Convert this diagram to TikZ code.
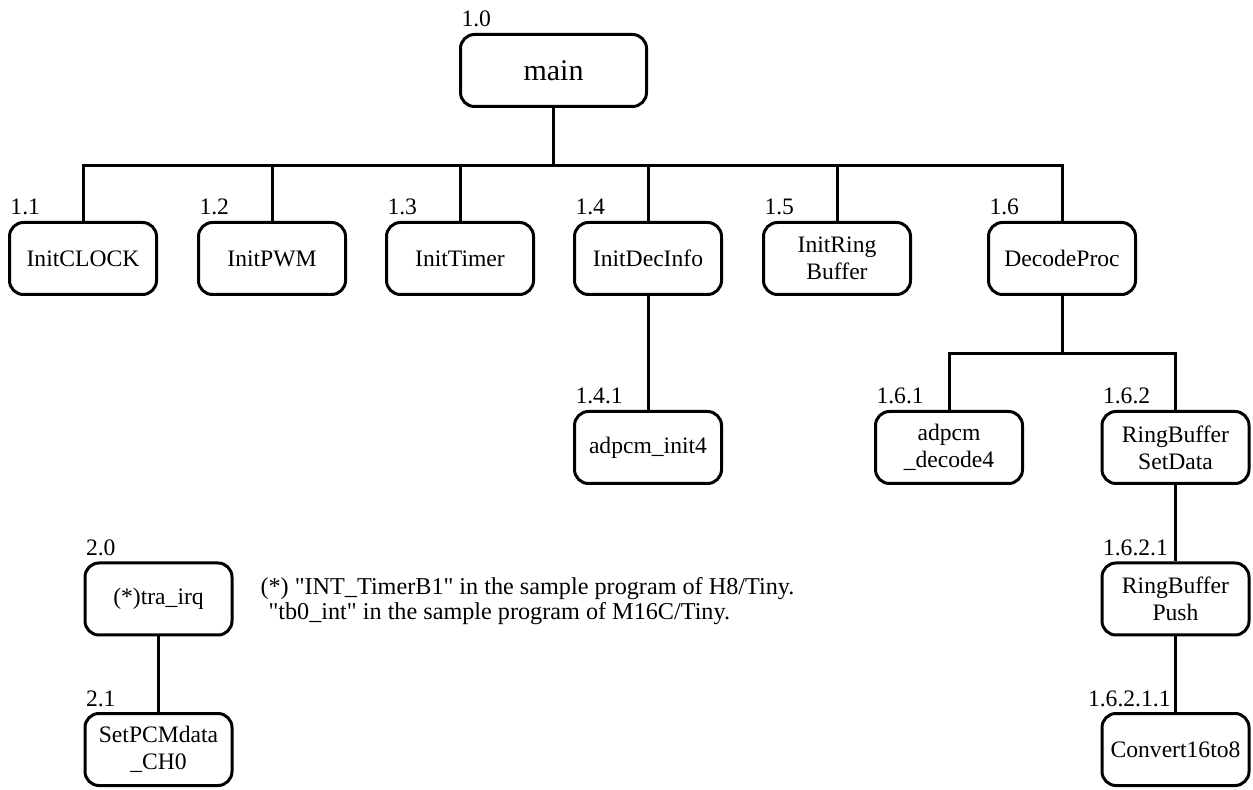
\documentclass[tikz,border=0pt]{standalone}
\usepackage{fontspec}
\setmainfont{Liberation Serif}
\newfontfamily\notefont{Liberation Serif}
\begin{document}
\begin{tikzpicture}[x=0.5pt,y=-0.5pt,line width=1.5pt,
    func/.style={draw,rounded corners=7pt,minimum width=73.5pt,minimum height=36pt,
        align=center,inner sep=2pt,font=\fontsize{11.8}{13.5}\selectfont},
    num/.style={anchor=base west,inner sep=0pt,xshift=0.5pt,yshift=3pt,
        font=\fontsize{11.8}{13.5}\selectfont}]
    \useasboundingbox (0,0) rectangle (1253,790);
    %top level
    \node[func,minimum width=93pt,font=\fontsize{15}{17}\selectfont,label={[num]north west:1.0}] (main) at (553.5,70.5) {main};
    \node[func,label={[num]north west:1.1}] (clock) at (83,258.5) {InitCLOCK};
    \node[func,label={[num]north west:1.2}] (pwm) at (272,258.5) {InitPWM};
    \node[func,label={[num]north west:1.3}] (timer) at (460,258.5) {InitTimer};
    \node[func,label={[num]north west:1.4}] (decinfo) at (648,258.5) {InitDecInfo};
    \node[func,label={[num]north west:1.5}] (ring) at (837,258.5) {InitRing\\Buffer};
    \node[func,label={[num]north west:1.6}] (proc) at (1062,258.5) {DecodeProc};
    %second level
    \node[func,label={[num]north west:1.4.1}] (init4) at (648,447.5) {adpcm\_init4};
    \node[func,label={[num]north west:1.6.1}] (decode4) at (949,447.5) {adpcm\\\_decode4};
    \node[func,label={[num]north west:1.6.2}] (setdata) at (1175.5,447.5) {RingBuffer\\SetData};
    \node[func,label={[num]north west:1.6.2.1}] (push) at (1175.5,599) {RingBuffer\\Push};
    \node[func,label={[num,xshift=-7.5pt]north west:1.6.2.1.1}] (conv) at (1175.5,749.5) {Convert16to8};
    %interrupt
    \node[func,label={[num]north west:2.0}] (irq) at (158.5,599) {(*)tra\_irq};
    \node[func,label={[num]north west:2.1}] (pcm) at (158.5,749.5) {SetPCMdata\\\_CH0};
    \node[anchor=west,align=left,inner sep=0pt,font=\notefont\fontsize{12.1}{12.7}\selectfont] (note) at (259,601)
        {(*) "INT\_TimerB1" in the sample program of H8/Tiny.\\
        \hspace*{4pt}"tb0\_int" in the sample program of M16C/Tiny.};
    %connectors
    \coordinate (bus) at (553.5,166);
    \coordinate (sub) at (1062,354);
    \draw (main) -- (bus);
    \draw (clock.north) |- (bus) -| (proc.north);
    \foreach \n in {pwm,timer,decinfo,ring}
        \draw (\n.north) -- (\n.north |- bus);
    \draw (decinfo) -- (init4);
    \draw (proc) -- (sub);
    \draw (decode4.north) |- (sub) -| (setdata.north);
    \draw (setdata) -- (push)
        (push) -- (conv);
    \draw (irq) -- (pcm);
\end{tikzpicture}
\end{document}
